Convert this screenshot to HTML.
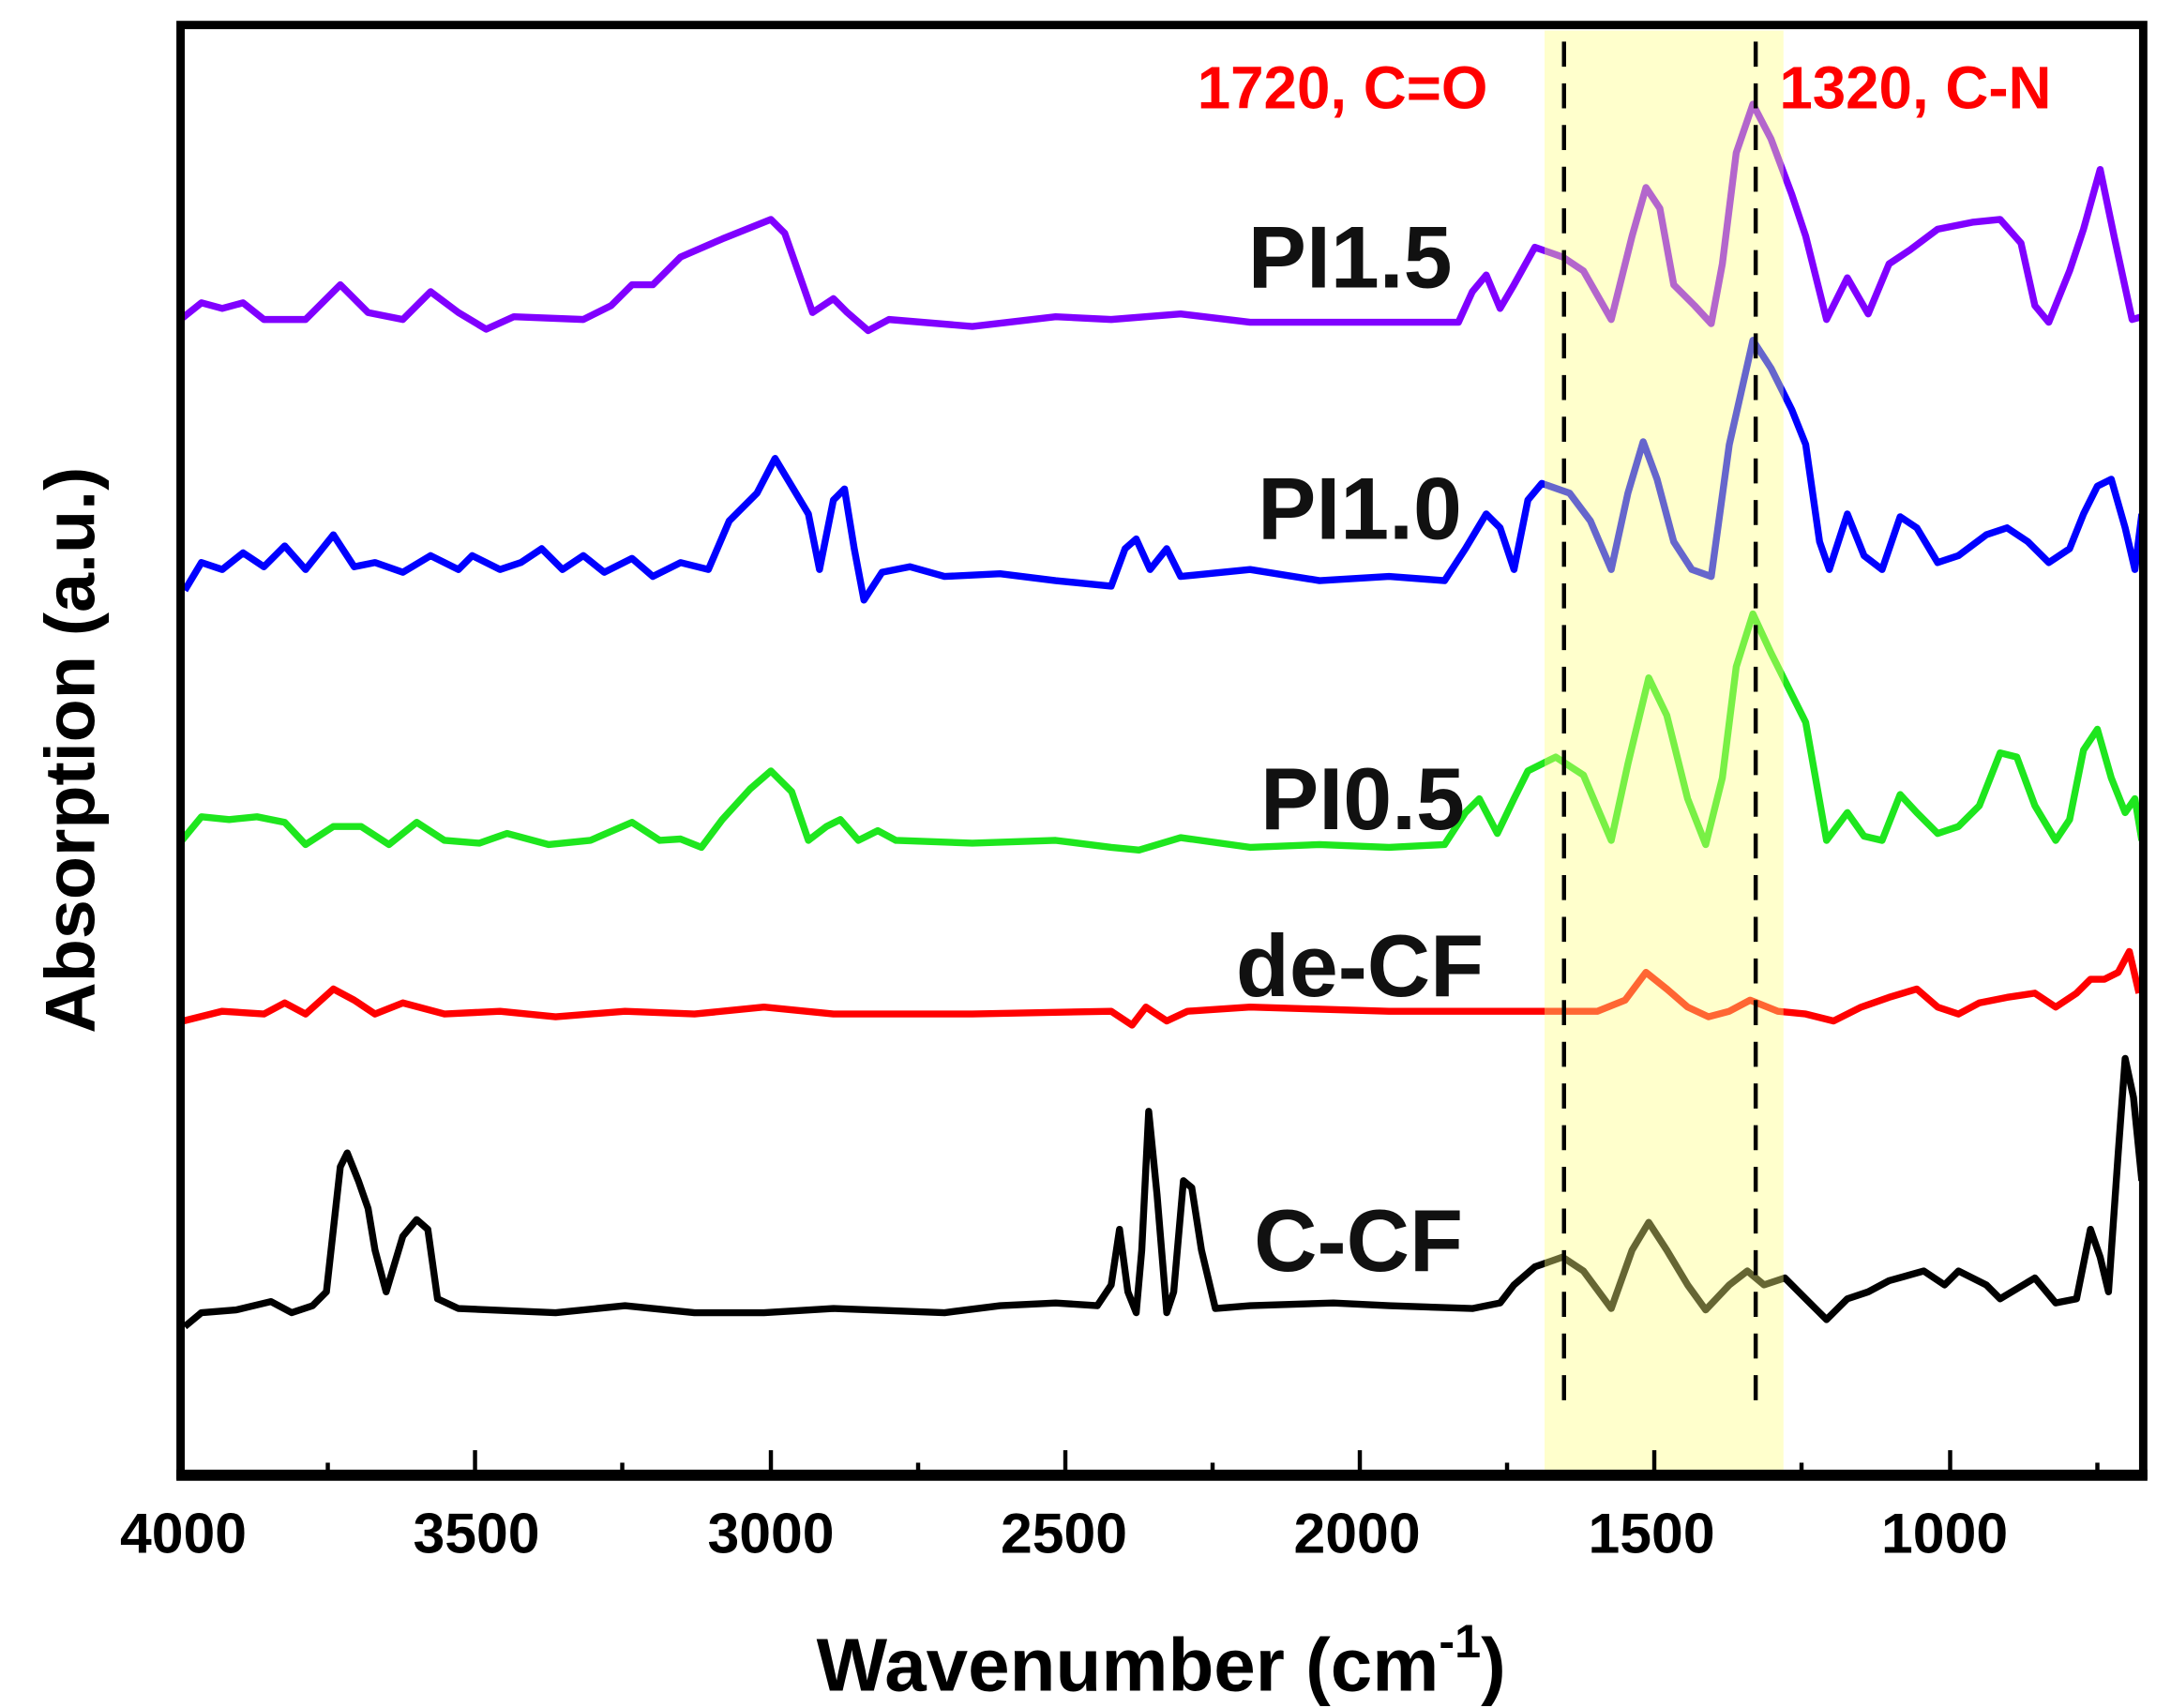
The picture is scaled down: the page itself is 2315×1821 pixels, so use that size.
<!DOCTYPE html>
<html><head><meta charset="utf-8"><style>
html,body{margin:0;padding:0;background:#fff;}
svg{display:block;}
text{font-family:"Liberation Sans",sans-serif;font-weight:bold;}
</style></head><body>
<svg width="2315" height="1821" viewBox="0 0 1563 1229.6" preserveAspectRatio="none" xmlns="http://www.w3.org/2000/svg">
<rect x="0" y="0" width="1563" height="1229.6" fill="#fff"/>
<g fill="none" stroke-width="5" stroke-linejoin="round">
<polyline stroke="#8000ff" points="130,230 145,218 160,222 175,218 190,230 220,230 245,205 265,225 290,230 310,210 330,225 350,237 370,228 420,230 440,220 455,205 470,205 490,185 520,172 555,158 565,168 585,225 600,215 610,225 625,238 640,230 700,235 760,228 800,230 850,226 900,232 1050,232 1060,210 1070,198 1080,222 1090,205 1105,178 1125,185 1140,195 1160,230 1175,170 1185,135 1195,150 1205,205 1220,220 1232,233 1240,190 1250,110 1262,75 1275,100 1290,140 1300,170 1315,230 1330,200 1345,226 1360,190 1375,180 1395,165 1420,160 1440,158 1455,175 1465,220 1475,232 1490,195 1500,165 1512,122 1522,170 1535,230 1542,228"/>
<polyline stroke="#0000ff" points="133,425 145,405 160,410 175,398 190,408 205,393 220,410 240,385 255,408 270,405 290,412 310,400 330,410 340,400 360,410 375,405 390,395 405,410 420,400 435,412 455,402 470,415 490,405 510,410 525,375 545,355 558,330 570,350 582,370 590,410 600,360 608,352 615,395 622,432 635,412 655,408 680,415 720,413 760,418 800,422 810,395 818,388 828,410 840,395 850,415 900,410 950,418 1000,415 1040,418 1055,395 1070,370 1080,380 1090,410 1100,360 1110,348 1130,355 1145,375 1160,410 1172,355 1183,318 1193,345 1205,390 1218,410 1232,415 1245,320 1262,245 1275,265 1290,295 1300,320 1310,390 1317,410 1330,370 1342,400 1355,410 1368,372 1380,380 1395,405 1410,400 1430,385 1445,380 1460,390 1475,405 1490,395 1500,370 1510,350 1520,345 1530,380 1537,410 1542,370"/>
<polyline stroke="#1ee61e" points="131,605 145,588 165,590 185,588 205,592 220,608 240,595 260,595 280,608 300,592 320,605 345,607 365,600 395,608 425,605 455,592 475,605 490,604 505,610 520,590 540,568 555,555 570,570 582,605 595,595 605,590 618,605 632,598 645,605 700,607 760,605 800,610 820,612 850,603 900,610 950,608 1000,610 1040,608 1055,585 1065,575 1078,600 1090,575 1100,555 1120,545 1140,558 1160,605 1172,550 1187,488 1200,515 1215,575 1228,608 1240,560 1250,480 1262,442 1275,470 1290,500 1300,520 1315,605 1330,585 1342,602 1355,605 1368,572 1380,585 1395,600 1410,595 1425,580 1440,542 1452,545 1465,580 1480,605 1490,590 1500,540 1510,525 1520,560 1530,585 1537,575 1542,605"/>
<polyline stroke="#ff0000" points="132,735 160,728 190,730 205,722 220,730 240,712 255,720 270,730 290,722 320,730 360,728 400,732 450,728 500,730 550,725 600,730 700,730 800,728 815,738 825,725 840,735 855,728 900,725 1000,728 1100,728 1150,728 1170,720 1185,700 1200,712 1215,725 1230,732 1245,728 1260,720 1280,728 1300,730 1320,735 1340,725 1360,718 1380,712 1395,725 1410,730 1425,722 1445,718 1465,715 1480,725 1495,715 1505,705 1515,705 1525,700 1533,685 1540,715"/>
<polyline stroke="#000" points="133,955 145,945 170,943 195,937 210,945 225,940 235,930 245,840 250,830 258,850 265,870 270,900 278,930 290,890 300,878 308,885 315,935 330,942 400,945 450,940 500,945 550,945 600,942 680,945 720,940 760,938 790,940 800,925 806,885 812,930 818,945 822,900 827,800 833,860 840,945 845,930 852,850 858,855 865,900 875,942 900,940 960,938 1000,940 1060,942 1080,938 1090,925 1105,912 1125,905 1140,915 1160,942 1175,900 1187,880 1200,900 1215,925 1228,943 1245,925 1258,915 1270,925 1285,920 1300,935 1315,950 1330,935 1345,930 1360,922 1385,915 1400,925 1410,915 1430,925 1440,935 1465,920 1480,938 1495,935 1505,885 1512,905 1518,930 1525,830 1530,762 1536,790 1542,850"/>
</g>
<rect x="1112" y="22" width="172" height="1038" fill="#ffff80" fill-opacity="0.4"/>
<g stroke="#000" stroke-width="3" stroke-dasharray="18,12">
<line x1="1126" y1="30" x2="1126" y2="1015"/>
<line x1="1264" y1="30" x2="1264" y2="1015"/>
</g>
<rect x="130" y="18" width="1413" height="1044" fill="none" stroke="#000" stroke-width="6"/>
<line x1="127" y1="1062" x2="1546" y2="1062" stroke="#000" stroke-width="8"/>
<g stroke="#000" stroke-width="3">
<line x1="342" y1="1062" x2="342" y2="1044"/><line x1="555" y1="1062" x2="555" y2="1044"/><line x1="767" y1="1062" x2="767" y2="1044"/><line x1="979" y1="1062" x2="979" y2="1044"/><line x1="1191" y1="1062" x2="1191" y2="1044"/><line x1="1404" y1="1062" x2="1404" y2="1044"/>
<line x1="236" y1="1062" x2="236" y2="1053"/><line x1="448" y1="1062" x2="448" y2="1053"/><line x1="661" y1="1062" x2="661" y2="1053"/><line x1="873" y1="1062" x2="873" y2="1053"/><line x1="1085" y1="1062" x2="1085" y2="1053"/><line x1="1297" y1="1062" x2="1297" y2="1053"/><line x1="1510" y1="1062" x2="1510" y2="1053"/>
</g>
<g font-size="41" text-anchor="middle" fill="#000">
<text x="132" y="1118">4000</text><text x="343" y="1118">3500</text><text x="555" y="1118">3000</text><text x="766" y="1118">2500</text><text x="977" y="1118">2000</text><text x="1189" y="1118">1500</text><text x="1400" y="1118">1000</text>
</g>
<text x="836" y="1217" font-size="54" text-anchor="middle">Wavenumber (cm<tspan font-size="34" dy="-24">-1</tspan><tspan dy="24">)</tspan></text>
<text transform="translate(68,540) rotate(-90)" font-size="51" text-anchor="middle">Absorption (a.u.)</text>
<g font-size="63" fill="#111" text-anchor="middle">
<text x="972" y="207">PI1.5</text>
<text x="979" y="388">PI1.0</text>
<text x="981" y="597">PI0.5</text>
<text x="979" y="717">de-CF</text>
<text x="978" y="915">C-CF</text>
</g>
<g font-size="43" fill="#ff0000">
<text x="862" y="78">1720, C=O</text>
<text x="1281" y="78">1320, C-N</text>
</g>
</svg>
</body></html>
